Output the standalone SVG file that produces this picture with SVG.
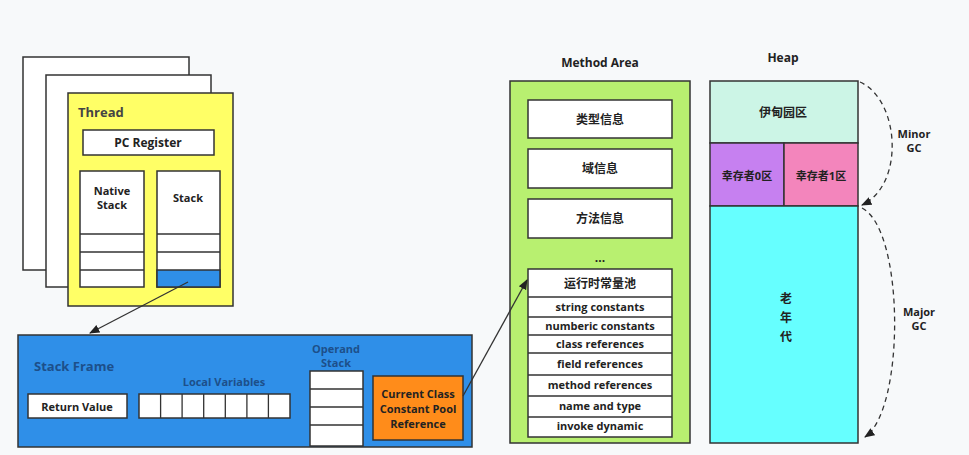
<svg xmlns="http://www.w3.org/2000/svg" width="969" height="455" viewBox="0 0 969 455">
<defs>
<style>
text{font-family:"Open Sans","Noto Sans CJK SC",sans-serif;font-weight:bold;fill:#222;text-anchor:middle}
.w{fill:#fff;stroke:#333;stroke-width:1.5}
.s{font-size:11px}
.t{font-size:12px}
.c{stroke:#333;stroke-width:1.3;fill:none}
.d{stroke:#333;stroke-width:1.3;fill:none;stroke-dasharray:5,4}
</style>
<marker id="ah" viewBox="0 0 10 10" refX="9" refY="5" markerWidth="8" markerHeight="8" orient="auto"><path d="M0,1L10,5L0,9z" fill="#222"/></marker>
</defs>
<rect width="969" height="455" fill="#f7f9fa"/>
<g id="thread">
<rect class="w" x="23" y="57" width="166" height="213"/>
<rect class="w" x="46" y="75" width="165" height="212"/>
<rect x="68" y="93" width="165" height="213" fill="#ffff66" stroke="#333" stroke-width="1.5"/>
<text x="78" y="117" style="text-anchor:start;font-size:13px;fill:#444">Thread</text>
<rect class="w" x="83" y="130" width="131" height="25"/>
<text class="t" x="148" y="147">PC Register</text>
<rect class="w" x="80" y="171" width="64" height="116"/>
<line class="c" x1="80" y1="234" x2="144" y2="234"/><line class="c" x1="80" y1="252" x2="144" y2="252"/><line class="c" x1="80" y1="270" x2="144" y2="270"/>
<text class="s" x="112" y="195">Native</text><text class="s" x="112" y="209">Stack</text>
<rect class="w" x="157" y="171" width="63" height="116"/>
<rect x="157" y="270" width="63" height="17" fill="#2f8fe8" stroke="#333" stroke-width="1.5"/>
<line class="c" x1="157" y1="234" x2="220" y2="234"/><line class="c" x1="157" y1="252" x2="220" y2="252"/>
<text class="s" x="188" y="202">Stack</text>
</g>
<g id="stackframe">
<rect x="18" y="335" width="454" height="112" fill="#2f8fe8" stroke="#333" stroke-width="1.5"/>
<text x="34" y="371" style="text-anchor:start;font-size:13px;fill:#1d4f8a">Stack Frame</text>
<rect class="w" x="28" y="394" width="99" height="24"/>
<text class="s" x="77" y="411">Return Value</text>
<text class="s" x="224" y="386" style="fill:#1d4f8a">Local Variables</text>
<rect class="w" x="139" y="394" width="151" height="24"/>
<path class="c" d="M160.6 394v24M182.1 394v24M203.7 394v24M225.3 394v24M246.9 394v24M268.4 394v24"/>
<text class="s" x="336" y="353" style="fill:#1d4f8a">Operand</text><text class="s" x="336" y="367" style="fill:#1d4f8a">Stack</text>
<rect class="w" x="310" y="371" width="53" height="75"/>
<path class="c" d="M310 389h53M310 407h53M310 425h53"/>
<rect x="373" y="376" width="90" height="64" fill="#ff8c1a" stroke="#333" stroke-width="1.5"/>
<text class="s" x="418" y="398">Current Class</text><text class="s" x="418" y="413">Constant Pool</text><text class="s" x="418" y="428">Reference</text>
</g>
<g id="methodarea">
<text class="t" x="600" y="67">Method Area</text>
<rect x="510" y="81" width="180" height="362" fill="#b8f070" stroke="#333" stroke-width="1.5"/>
<rect class="w" x="528" y="100" width="144" height="38"/><text class="t" x="600" y="124">类型信息</text>
<rect class="w" x="528" y="149" width="144" height="39"/><text class="t" x="600" y="173">域信息</text>
<rect class="w" x="528" y="199" width="144" height="39"/><text class="t" x="600" y="223">方法信息</text>
<text class="t" x="600" y="262">...</text>
<rect class="w" x="528" y="269" width="144" height="168"/>
<path class="c" d="M528 297h144M528 317h144M528 335h144M528 353h144M528 375h144M528 396h144M528 417h144"/>
<text class="t" x="600" y="288">运行时常量池</text>
<text class="s" x="600" y="311">string constants</text>
<text class="s" x="600" y="330">numberic constants</text>
<text class="s" x="600" y="348">class references</text>
<text class="s" x="600" y="368">field references</text>
<text class="s" x="600" y="389">method references</text>
<text class="s" x="600" y="410">name and type</text>
<text class="s" x="600" y="430">invoke dynamic</text>
</g>
<g id="heap">
<text class="t" x="783" y="62">Heap</text>
<rect x="710" y="81" width="148" height="62" fill="#ccf5e6" stroke="#333" stroke-width="1.5"/>
<text class="t" x="783" y="117">伊甸园区</text>
<rect x="710" y="143" width="74" height="63" fill="#c680f0" stroke="#333" stroke-width="1.5"/>
<rect x="784" y="143" width="74" height="63" fill="#f385bc" stroke="#333" stroke-width="1.5"/>
<text class="s" x="747" y="180">幸存者0区</text><text class="s" x="821" y="180">幸存者1区</text>
<rect x="710" y="206" width="148" height="237" fill="#66ffff" stroke="#333" stroke-width="1.5"/>
<text class="t" x="786" y="303">老</text><text class="t" x="786" y="322">年</text><text class="t" x="786" y="341">代</text>
<text class="s" x="914" y="138">Minor</text><text class="s" x="914" y="152">GC</text>
<text class="s" x="919" y="316">Major</text><text class="s" x="919" y="330">GC</text>
</g>
<g id="connectors">
<line class="c" x1="188" y1="282" x2="90" y2="333" marker-end="url(#ah)"/>
<line class="c" x1="463" y1="396" x2="527" y2="280" marker-end="url(#ah)"/>
<path class="d" d="M860 82C900 100 905 185 862 205" marker-end="url(#ah)"/>
<path class="d" d="M862 208C905 230 905 410 865 437" marker-end="url(#ah)"/>
</g>
</svg>
